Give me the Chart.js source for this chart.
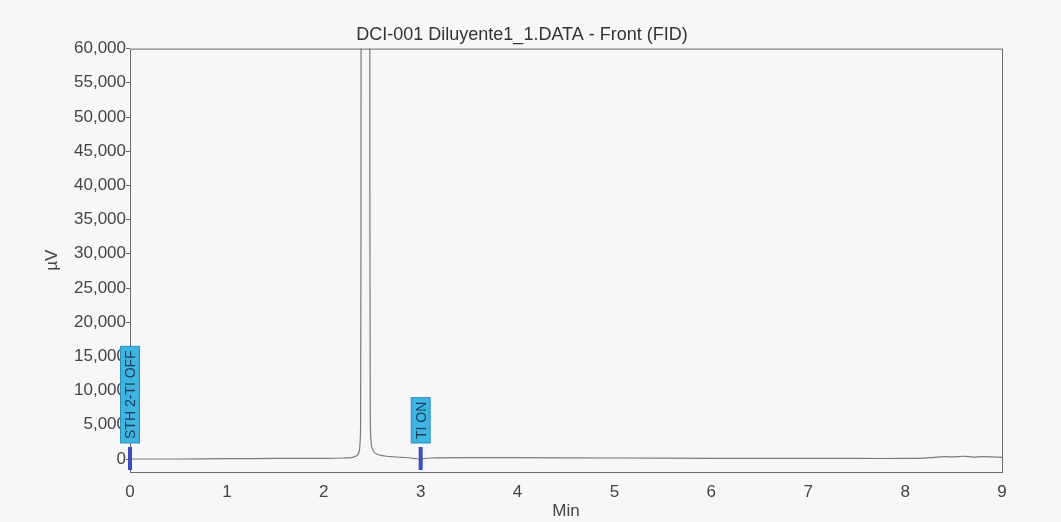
<!DOCTYPE html>
<html>
<head>
<meta charset="utf-8">
<title>DCI-001 Diluyente1_1.DATA - Front (FID)</title>
<script src="https://cdn.jsdelivr.net/npm/chart.js@4.4.0/dist/chart.umd.min.js"></script>
<style>
  html, body { margin: 0; padding: 0; background: #f7f7f9; }
  #wrap { width: 1061px; height: 522px; }
</style>
</head>
<body>
<div id="wrap"><canvas id="fid"></canvas></div>
<script>
// FID trace: retention time (min) and detector signal (µV)
const timeMin = [0, 0.5, 1, 1.5, 2, 2.2, 2.3, 2.35, 2.37, 2.38, 2.385, 2.43, 2.475, 2.48, 2.49, 2.51, 2.55, 2.65, 2.8, 2.9, 2.95, 3.0, 3.1, 3.5, 4, 5, 6, 7, 7.5, 8, 8.2, 8.3, 8.4, 8.5, 8.6, 8.7, 8.8, 8.9, 9];
const signalUV = [0, 0, 50, 80, 100, 150, 250, 600, 1500, 5000, 60000, 1500000, 60000, 6000, 2200, 1200, 700, 400, 250, 150, 50, 0, 150, 200, 200, 150, 100, 100, 80, 80, 120, 250, 350, 300, 400, 280, 350, 300, 250];

// timed events printed on the run
const eventTimes = [0, 3];
const eventLabels = ["STH 2-TI OFF", "TI ON"];

const xTicks = [0, 1, 2, 3, 4, 5, 6, 7, 8, 9];
const yTicks = [0, 5000, 10000, 15000, 20000, 25000, 30000, 35000, 40000, 45000, 50000, 55000, 60000];

const points = timeMin.map((t, i) => ({ x: t, y: signalUV[i] }));
const font = "'Liberation Sans', Arial, sans-serif";

// frame round the plot and the event flags
const frameAndEvents = {
  id: "frameAndEvents",
  afterDraw(chart) {
    const { ctx, chartArea: a, scales } = chart;
    ctx.save();
    ctx.strokeStyle = "#6a6a6a";
    ctx.lineWidth = 1;
    ctx.strokeRect(a.left + 0.5, a.top + 0.5, a.right - a.left, a.bottom - a.top);

    const y0 = scales.y.getPixelForValue(0);
    ctx.font = "14px " + font;
    eventTimes.forEach((t, i) => {
      const x = scales.x.getPixelForValue(t);
      // stub marker on the baseline
      ctx.fillStyle = "#3b4cc4";
      ctx.fillRect(x - 2, y0 - 12, 4, 23);
      // labelled flag
      const w = ctx.measureText(eventLabels[i]).width + 8;
      const bottom = y0 - 16;
      ctx.fillStyle = "#3db5e0";
      ctx.fillRect(x - 9.5, bottom - w, 19, w);
      ctx.strokeStyle = "#2a8fc0";
      ctx.strokeRect(x - 9.5, bottom - w, 19, w);
      ctx.save();
      ctx.translate(x + 1, bottom - 4);
      ctx.rotate(-Math.PI / 2);
      ctx.fillStyle = "#1d3a5a";
      ctx.textAlign = "left";
      ctx.textBaseline = "middle";
      ctx.fillText(eventLabels[i], 0, 0);
      ctx.restore();
    });
    ctx.restore();
  }
};

new Chart(document.getElementById("fid"), {
  type: "line",
  data: {
    datasets: [{
      data: points,
      borderColor: "#7a7a7a",
      borderWidth: 1.2,
      pointRadius: 0,
      tension: 0.3,
      clip: 0
    }]
  },
  options: {
    responsive: true,
    maintainAspectRatio: false,
    animation: false,
    layout: { padding: { left: 42, right: 59, top: 0, bottom: 0 } },
    plugins: {
      legend: { display: false },
      tooltip: { enabled: false },
      title: {
        display: true,
        text: "DCI-001 Diluyente1_1.DATA - Front (FID)",
        color: "#333",
        font: { family: font, size: 18, weight: "normal" },
        padding: { top: 24, bottom: 3 }
      }
    },
    scales: {
      x: {
        type: "linear",
        min: 0,
        max: 9,
        afterBuildTicks: s => { s.ticks = xTicks.map(v => ({ value: v })); },
        afterFit: s => { s.height = 50; },
        grid: { display: false, drawOnChartArea: false },
        border: { display: false },
        ticks: { color: "#444", font: { family: font, size: 17 }, padding: 2 },
        title: {
          display: true,
          text: "Min",
          color: "#444",
          font: { family: font, size: 17 },
          padding: { top: 0, bottom: 0 }
        }
      },
      y: {
        min: -1900,
        max: 60000,
        afterBuildTicks: s => { s.ticks = yTicks.map(v => ({ value: v })); },
        afterFit: s => { s.width = 88; },
        grid: { drawOnChartArea: false, tickLength: 4, color: "#6a6a6a" },
        border: { display: false },
        ticks: {
          color: "#444",
          font: { family: font, size: 17 },
          padding: 0,
          callback: v => v.toLocaleString("en-US")
        },
        title: {
          display: true,
          text: "µV",
          color: "#444",
          font: { family: font, size: 17 },
          padding: { top: 0, bottom: 0 }
        }
      }
    }
  },
  plugins: [frameAndEvents]
});
</script>
</body>
</html>
